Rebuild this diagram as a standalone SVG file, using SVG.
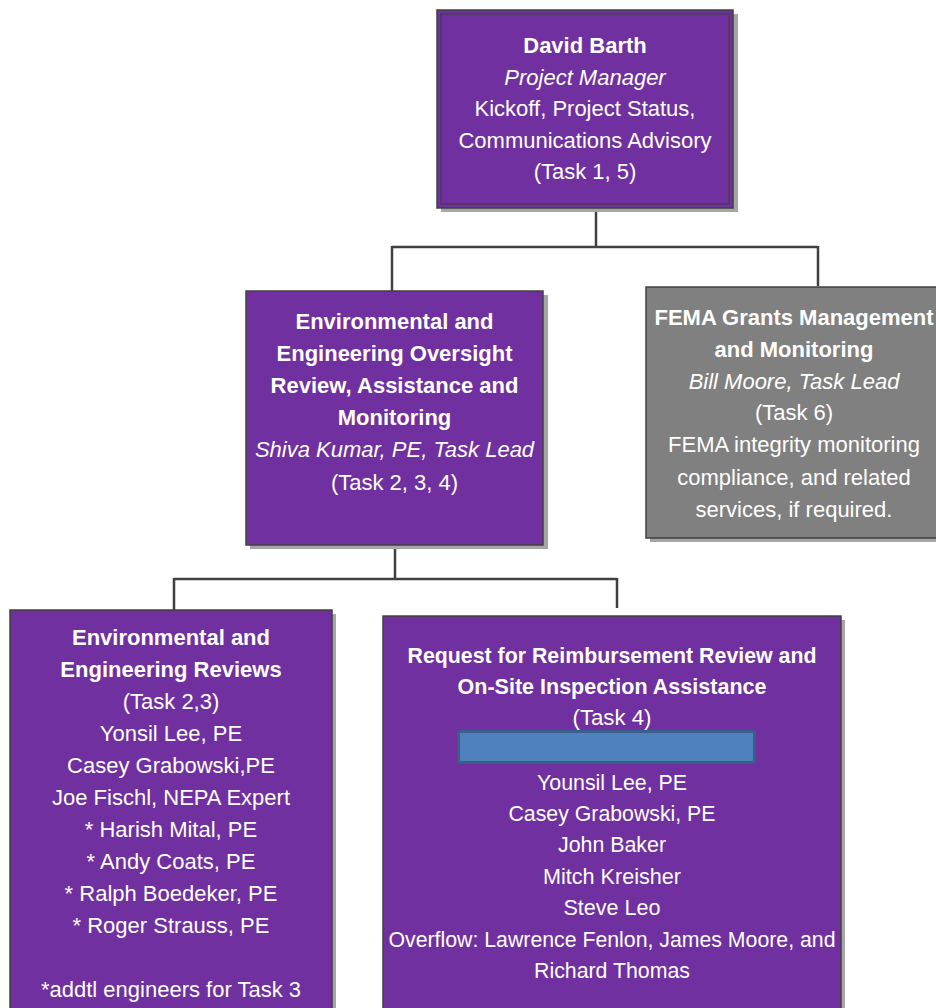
<svg xmlns="http://www.w3.org/2000/svg" width="936" height="1008" viewBox="0 0 936 1008">
<style>
.shadow{fill:#a6a6a6}
.purple{fill:#7030a0;stroke:#404040;stroke-width:1.5}
.gray{fill:#808080;stroke:#404040;stroke-width:1.5}
.inner{fill:none;stroke:#404040;stroke-width:1.2}
.conn{fill:none;stroke:#404040;stroke-width:2.5}
text{font-family:"Liberation Sans",Arial,sans-serif;font-size:22px;fill:#ffffff;text-anchor:middle}
.b{font-weight:bold}
.i{font-style:italic}
</style>
<rect width="936" height="1008" fill="#ffffff"/>
<g id="connectors">
<path class="conn" d="M596,208 V247 M392,247 H818 M392,246 V291 M818,246 V286"/>
<path class="conn" d="M395,540 V579 M174,579 H617 M174,578 V610 M617,578 V608"/>
</g>
<g id="node-david-barth">
<rect class="shadow" x="441" y="14" width="297" height="198"/>
<rect class="purple" x="437" y="10" width="296" height="198"/>
<rect class="inner" x="441" y="14" width="288" height="190"/>
<text x="585" y="53" class="b">David Barth</text>
<text x="585" y="84.5" class="i">Project Manager</text>
<text x="585" y="116">Kickoff, Project Status,</text>
<text x="585" y="147.5">Communications Advisory</text>
<text x="585" y="179">(Task 1, 5)</text>
</g>
<g id="node-env-oversight">
<rect class="shadow" x="250" y="295" width="298" height="254"/>
<rect class="purple" x="246" y="291" width="297" height="254"/>
<text x="394.5" y="329" class="b">Environmental and</text>
<text x="394.5" y="361" class="b">Engineering Oversight</text>
<text x="394.5" y="393" class="b">Review, Assistance and</text>
<text x="394.5" y="425" class="b">Monitoring</text>
<text x="394.5" y="457" class="i">Shiva Kumar, PE, Task Lead</text>
<text x="394.5" y="490">(Task 2, 3, 4)</text>
</g>
<g id="node-fema">
<rect class="shadow" x="650" y="291" width="296" height="251"/>
<rect class="gray" x="646" y="287" width="296" height="251"/>
<text x="794" y="325" class="b">FEMA Grants Management</text>
<text x="794" y="357" class="b">and Monitoring</text>
<text x="794" y="389" class="i">Bill Moore, Task Lead</text>
<text x="794" y="420">(Task 6)</text>
<text x="794" y="452">FEMA integrity monitoring</text>
<text x="794" y="485">compliance, and related</text>
<text x="794" y="517">services, if required.</text>
</g>
<g id="node-env-reviews">
<rect class="shadow" x="14" y="614" width="322" height="400"/>
<rect class="purple" x="10" y="610" width="322" height="400"/>
<text x="171" y="645" class="b">Environmental and</text>
<text x="171" y="677" class="b">Engineering Reviews</text>
<text x="171" y="709">(Task 2,3)</text>
<text x="171" y="740.5">Yonsil Lee, PE</text>
<text x="171" y="773">Casey Grabowski,PE</text>
<text x="171" y="805">Joe Fischl, NEPA Expert</text>
<text x="171" y="837">* Harish Mital, PE</text>
<text x="171" y="869">* Andy Coats, PE</text>
<text x="171" y="901">* Ralph Boedeker, PE</text>
<text x="171" y="933">* Roger Strauss, PE</text>
<text x="171" y="997">*addtl engineers for Task 3</text>
</g>
<g id="node-rfr">
<rect class="shadow" x="387" y="620" width="458" height="400"/>
<rect class="purple" x="383" y="616" width="458" height="400"/>
<rect x="458.5" y="731.5" width="296" height="31" rx="2" fill="#4f81bd" stroke="#3a5f8c" stroke-width="3"/>
<text x="612" y="663" class="b" textLength="409" lengthAdjust="spacingAndGlyphs">Request for Reimbursement Review and</text>
<text x="612" y="694" class="b" textLength="309" lengthAdjust="spacingAndGlyphs">On-Site Inspection Assistance</text>
<text x="612" y="725" textLength="79" lengthAdjust="spacingAndGlyphs">(Task 4)</text>
<text x="612" y="790" textLength="150" lengthAdjust="spacingAndGlyphs">Younsil Lee, PE</text>
<text x="612" y="821" textLength="207" lengthAdjust="spacingAndGlyphs">Casey Grabowski, PE</text>
<text x="612" y="852" textLength="108" lengthAdjust="spacingAndGlyphs">John Baker</text>
<text x="612" y="884" textLength="138" lengthAdjust="spacingAndGlyphs">Mitch Kreisher</text>
<text x="612" y="915" textLength="97" lengthAdjust="spacingAndGlyphs">Steve Leo</text>
<text x="612" y="947" textLength="447" lengthAdjust="spacingAndGlyphs">Overflow: Lawrence Fenlon, James Moore, and</text>
<text x="612" y="978" textLength="156" lengthAdjust="spacingAndGlyphs">Richard Thomas</text>
</g>
</svg>
